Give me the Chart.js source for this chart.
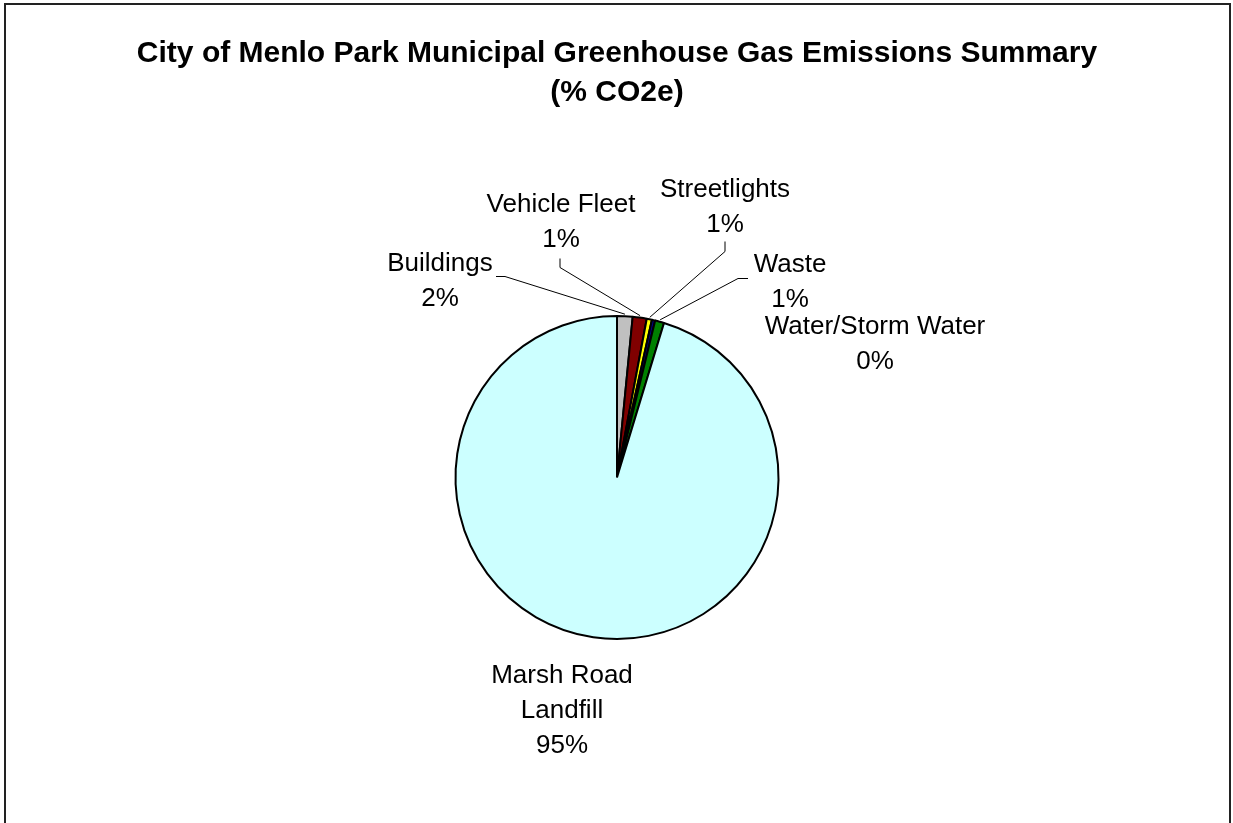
<!DOCTYPE html>
<html>
<head>
<meta charset="utf-8">
<script src="https://cdn.jsdelivr.net/npm/chart.js@4/dist/chart.umd.min.js"></script>
<style>
  html, body { margin: 0; padding: 0; background: #fff; }
  canvas { display: block; }
</style>
</head>
<body>
<canvas id="chart" width="1233" height="823"></canvas>
<script>
// data
const categories = ['Buildings', 'Vehicle Fleet', 'Streetlights', 'Water/Storm Water', 'Waste', 'Marsh Road Landfill'];
const shares = [1.55, 1.4, 0.52, 0.33, 0.9, 95.3];
const labelText = [['Buildings'], ['Vehicle Fleet'], ['Streetlights'], ['Water/Storm Water'], ['Waste'], ['Marsh Road', 'Landfill']];
const sliceColors = ['#C0C0C0', '#800000', '#FFFF00', '#000080', '#008000', '#CCFFFF'];
const titleLines = ['City of Menlo Park Municipal Greenhouse Gas Emissions Summary', '(% CO2e)'];

// where each label sits, relative to the pie centre (like Excel's best fit placement)
const labelPlacement = [
  { dx: -177, dy: -216, leader: [[-121, -201], [-112, -201]] },
  { dx: -56, dy: -275, leader: [[-57, -219], [-57, -210]] },
  { dx: 108, dy: -290, leader: [[108, -236], [108, -226]] },
  { dx: 258, dy: -153, leader: null },
  { dx: 173, dy: -215, leader: [[131, -199], [121, -199]] },
  { dx: -55, dy: 196, leader: null }
];

const FONT = '"Liberation Sans", Arial, Helvetica, sans-serif';

const total = shares.reduce((a, b) => a + b, 0);

const decorPlugin = {
  id: 'decor',
  afterDraw(chart) {
    const ctx = chart.ctx;
    const arcs = chart.getDatasetMeta(0).data;
    const cx = arcs[0].x, cy = arcs[0].y;
    ctx.save();

    // outer frame
    ctx.strokeStyle = '#222';
    ctx.lineWidth = 2;
    ctx.strokeRect(5, 4, 1225, 900);

    // title
    ctx.fillStyle = '#000';
    ctx.textAlign = 'center';
    ctx.textBaseline = 'alphabetic';
    ctx.font = 'bold 30px ' + FONT;
    ctx.fillText(titleLines[0], 617, 62);
    ctx.fillText(titleLines[1], 617, 101);

    // labels + leader lines
    ctx.font = '26px ' + FONT;
    ctx.lineWidth = 1;
    ctx.strokeStyle = '#000';
    arcs.forEach((arc, i) => {
      const p = labelPlacement[i];
      const lines = labelText[i].concat([Math.round(shares[i] / total * 100) + '%']);
      lines.forEach((t, k) => {
        ctx.fillText(t, cx + p.dx, cy + p.dy + 9 + k * 35);
      });
      if (p.leader) {
        const mid = (arc.startAngle + arc.endAngle) / 2;
        const r = arc.outerRadius + 2;
        ctx.beginPath();
        ctx.moveTo(cx + p.leader[0][0], cy + p.leader[0][1]);
        ctx.lineTo(cx + p.leader[1][0], cy + p.leader[1][1]);
        ctx.lineTo(cx + Math.cos(mid) * r, cy + Math.sin(mid) * r);
        ctx.stroke();
      }
    });
    ctx.restore();
  }
};

new Chart(document.getElementById('chart'), {
  type: 'pie',
  data: {
    labels: categories,
    datasets: [{
      data: shares,
      backgroundColor: sliceColors,
      borderColor: '#000',
      borderWidth: 2
    }]
  },
  options: {
    responsive: false,
    animation: false,
    devicePixelRatio: 1,
    layout: { padding: { top: 315, bottom: 183, left: 1, right: 0 } },
    plugins: {
      legend: { display: false },
      tooltip: { enabled: false }
    }
  },
  plugins: [decorPlugin]
});
</script>
</body>
</html>
